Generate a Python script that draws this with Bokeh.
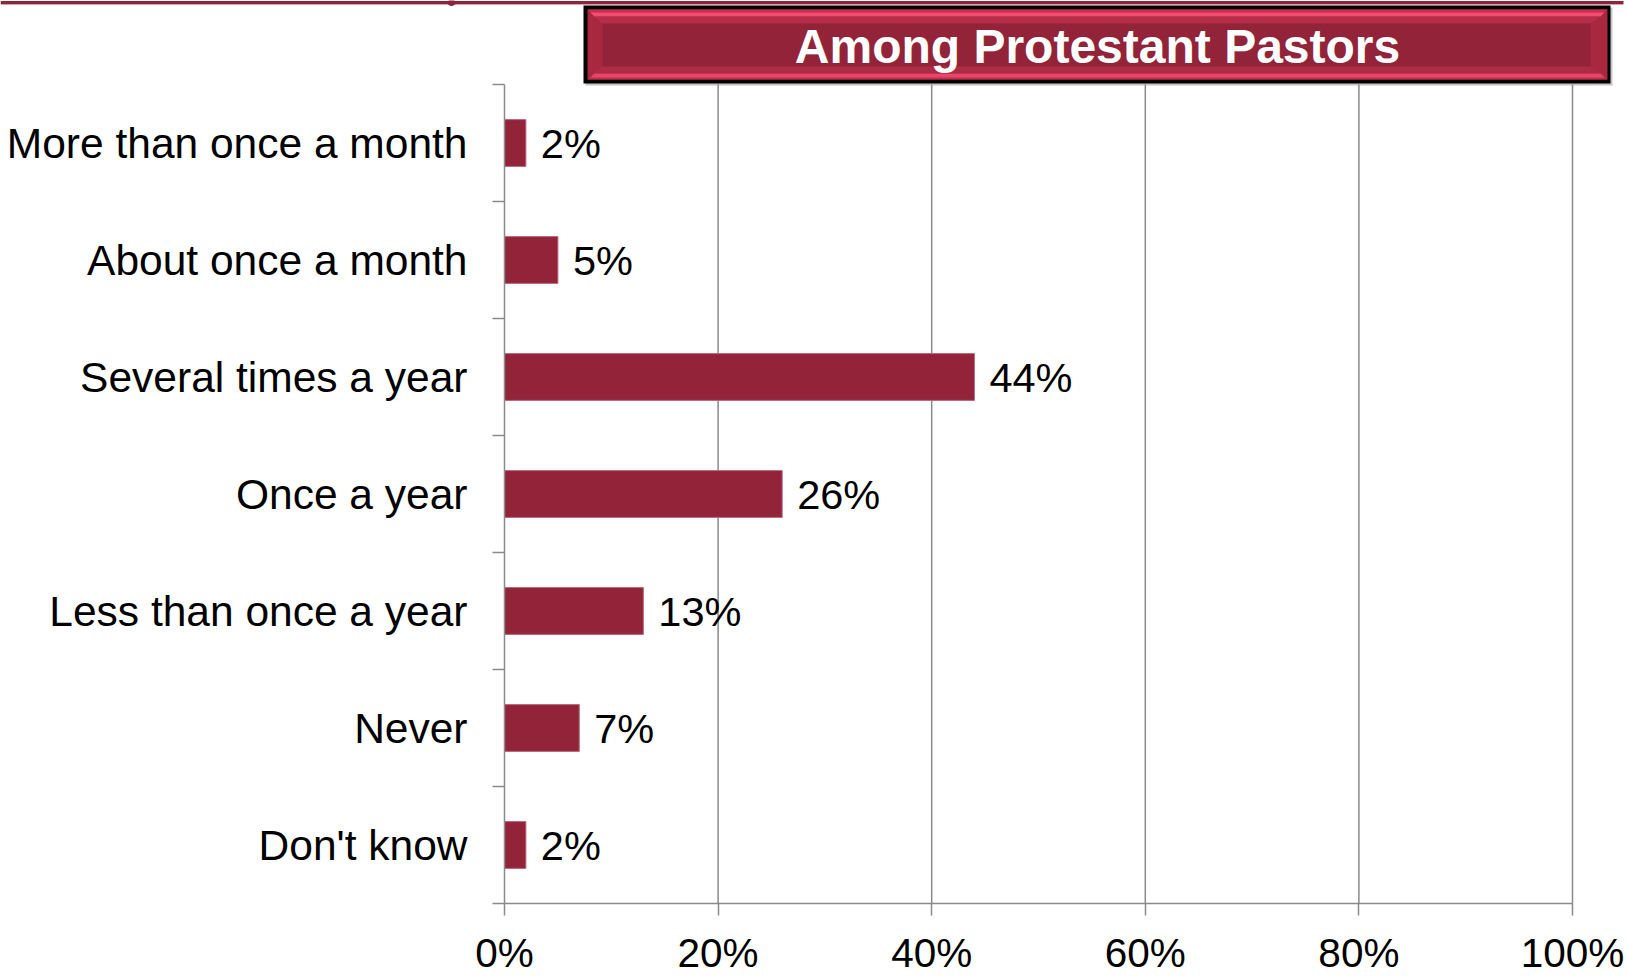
import numpy as np
from bokeh.plotting import figure
from bokeh.models import Range1d, FixedTicker, PrintfTickFormatter, ColumnDataSource
from bokeh.core.properties import value
from bokeh.embed import file_html
from bokeh.resources import INLINE

# ---- data ----
categories = ["More than once a month", "About once a month", "Several times a year",
              "Once a year", "Less than once a year", "Never", "Don't know"]
percentages = [2, 5, 44, 26, 13, 7, 2]
x_ticks = [0, 20, 40, 60, 80, 100]
title_text = "Among Protestant Pastors"

# ---- style / geometry ----
FONT = "Liberation Sans"
BAR = "#922339"
GRID = "#8a8a8a"
DARKLINE = "#8E2438"

W, H = 1627, 980
LEFT, FW = 504, 1068          # where 0 % sits and the width of 0..100 %
TOP, FH = 84, 819             # top of the category band and its height

n = len(categories)
sx = FW / 100.0
sy = FH / n
x_range = Range1d(-LEFT / sx, (W - LEFT) / sx)
y_range = Range1d(-0.5 - (H - TOP - FH) / sy, n - 0.5 + TOP / sy)

p = figure(width=W, height=H, x_range=x_range, y_range=y_range,
           output_backend="svg", toolbar_location=None, min_border=0)
p.min_border_left = p.min_border_right = p.min_border_top = p.min_border_bottom = 0
p.outline_line_color = None
p.xgrid.visible = False
p.ygrid.visible = False

# pixel space for the decorative banner
p.extra_x_ranges = {"px": Range1d(0, W)}
p.extra_y_ranges = {"px": Range1d(H, 0)}


def poly(pts, color):
    p.patch(x=[x for x, _ in pts], y=[y for _, y in pts], x_range_name="px",
            y_range_name="px", fill_color=color, line_color=None)


def rect(x0, y0, x1, y1, color):
    poly([(x0, y0), (x1, y0), (x1, y1), (x0, y1)], color)


# top rule with small dot
rect(0, 0.6, 1623, 3.6, DARKLINE)
rect(0, 3.6, 1623, 4.6, "#D9A3AE")
ang = np.linspace(0, 2 * np.pi, 16, endpoint=False)
poly(list(zip(451 + 4 * np.cos(ang), 2.2 + 3.2 * np.sin(ang))), DARKLINE)

# shadow + black frame
rect(585, 7, 1612, 85, "#c4c4c4")
rect(583, 5, 1610, 83, "black")

# bevelled red banner
ox0, ox1, oy0, oy1 = 587, 1607, 9, 79
ix0, ix1, iy0, iy1 = 602, 1590, 23, 66
rect(ox0, oy0, ox1, oy1, "#A8293F")
poly([(ox0, oy0), (ox1, oy0), (ix1, iy0), (ix0, iy0)], "#C4314F")
poly([(ix0, iy1), (ix1, iy1), (ox1, oy1), (ox0, oy1)], "#BC2F4C")
poly([(ox0 + 3, 12), (ox1 - 3, 12), (ox1 - 7, 16), (ox0 + 7, 16)], "#F44B70")
poly([(ox0 + 7, 73), (ox1 - 7, 73), (ox1 - 3, 77), (ox0 + 3, 77)], "#EC4468")
poly([(ox0 + 8, 16), (ox1 - 8, 16), (ix1, iy0), (ix0, iy0)], "#B42D49")
poly([(ix0, iy1), (ix1, iy1), (ox1 - 8, 73), (ox0 + 8, 73)], "#AC2B45")
rect(ix0, iy0, ix1, iy1, "#932339")

p.text(x=[1097], y=[46], text=[title_text], x_range_name="px", y_range_name="px",
       text_font=value(FONT), text_font_style="bold", text_font_size="48px",
       text_color="white", text_align="center", text_baseline="middle")

# gridlines (vertical, only across the category band)
gx = x_ticks[1:]
p.segment(x0=gx, y0=[-0.5] * len(gx), x1=gx, y1=[n - 0.5] * len(gx),
          line_color=GRID, line_width=1.5)

# bars + labels
ypos = [n - 1 - i for i in range(n)]
src = ColumnDataSource(dict(y=ypos, v=percentages, lab=[f"{v}%" for v in percentages]))
p.hbar(y="y", right="v", left=0, height=0.40, source=src,
       fill_color=BAR, line_color="#B8667A", line_width=1)
p.text(x="v", y="y", text="lab", source=src, x_offset=15, y_offset=0,
       text_font=value(FONT), text_font_size="41.5px", text_color="black",
       text_align="left", text_baseline="middle")

# y axis (fixed at 0 %)
ya = p.yaxis[0]
ya.fixed_location = 0
ya.bounds = (-0.5, n - 0.5)
ya.ticker = FixedTicker(ticks=ypos, minor_ticks=[k - 0.5 for k in range(n + 1)])
ya.major_label_overrides = {ypos[i]: c for i, c in enumerate(categories)}
ya.axis_line_color = GRID
ya.axis_line_width = 1.5
ya.major_tick_line_color = None
ya.major_tick_out = 0
ya.major_tick_in = 0
ya.minor_tick_line_color = GRID
ya.minor_tick_line_width = 1.5
ya.minor_tick_out = 12
ya.minor_tick_in = 0
ya.major_label_text_font = FONT
ya.major_label_text_font_size = "42.5px"
ya.major_label_text_color = "black"
ya.major_label_standoff = 25

# x axis (fixed at bottom of the band)
xa = p.xaxis[0]
xa.fixed_location = -0.5
xa.bounds = (0, 100)
xa.ticker = FixedTicker(ticks=x_ticks)
xa.formatter = PrintfTickFormatter(format="%d%%")
xa.axis_line_color = GRID
xa.axis_line_width = 1.5
xa.major_tick_line_color = GRID
xa.major_tick_line_width = 1.5
xa.major_tick_out = 12
xa.major_tick_in = 0
xa.minor_tick_line_color = None
xa.major_label_text_font = FONT
xa.major_label_text_font_size = "40.5px"
xa.major_label_text_color = "black"
xa.major_label_standoff = 14

open("out.html", "w").write(file_html(p, INLINE))
